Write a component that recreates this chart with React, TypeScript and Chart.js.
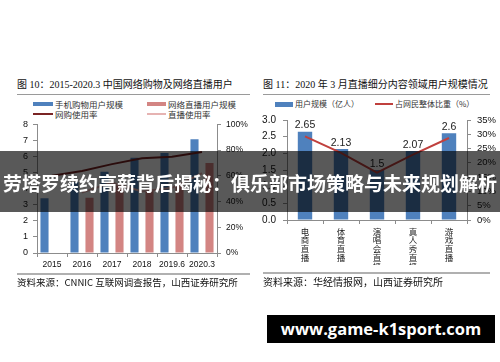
import React, { useEffect, useRef } from "react";
import { Chart, registerables } from "chart.js";
Chart.register(...registerables);

// ---- Left chart data (图 10) ----
const leftCategories = ["2015", "2016", "2017", "2018", "2019.6", "2020.3"];
const mobileShoppingUsers = [3.4, 4.41, 5.06, 5.92, 6.22, 7.07];
const liveStreamUsers = [null, 3.44, 4.22, 3.97, 4.33, 5.6];
const shoppingRate = [60.0, 63.8, 69.1, 73.6, 74.8, 78.6];
const liveRate = [null, 47.1, 54.7, 47.9, 50.7, 62.0];
const leftAxisTicks = [0, 1, 2, 3, 4, 5, 6, 7, 8];
const leftPctTicks = [0, 20, 40, 60, 80, 100];

// ---- Right chart data (图 11) ----
const rightCategories = ["电商直播", "体育直播", "演唱会直播", "真人秀直播", "游戏直播"];
const segmentUsers = [2.65, 2.13, 1.5, 2.07, 2.6];
const segmentShare = [29.3, 23.5, 16.6, 22.9, 28.7];
const rightAxisTicks = [0, 0.5, 1, 1.5, 2, 2.5, 3];
const rightPctTicks = [0, 5, 10, 15, 20, 25, 30, 35];

const TICK_FONT = '"Liberation Sans", Arial, sans-serif';
const CJK_FONT = '"Liberation Serif", "Noto Sans CJK SC", serif';
const AXIS_GRAY = "#8c8c8c";

const barValueLabels = {
  id: "barValueLabels",
  afterDatasetsDraw(chart: any) {
    const meta = chart.getDatasetMeta(1);
    const ctx = chart.ctx;
    ctx.save();
    ctx.font = `10.5px ${TICK_FONT}`;
    ctx.fillStyle = "#222";
    ctx.textAlign = "center";
    ctx.textBaseline = "bottom";
    meta.data.forEach((el: any, i: number) => {
      ctx.fillText(String(segmentUsers[i]), el.x, el.y - 1);
    });
    ctx.restore();
  },
};

export default function App() {
  const leftRef = useRef<HTMLCanvasElement>(null);
  const rightRef = useRef<HTMLCanvasElement>(null);

  useEffect(() => {
    const left = new Chart(leftRef.current!, {
      type: "bar",
      data: {
        labels: leftCategories,
        datasets: [
          {
            type: "line",
            label: "网购使用率",
            data: shoppingRate,
            yAxisID: "y1",
            borderColor: "#7a2424",
            borderWidth: 2,
            pointRadius: 0,
            order: 1,
          },
          {
            type: "line",
            label: "直播使用率",
            data: liveRate,
            yAxisID: "y1",
            borderColor: "#e6b3b2",
            borderWidth: 2,
            pointRadius: 0,
            order: 1,
          },
          {
            type: "bar",
            label: "手机购物用户规模",
            data: mobileShoppingUsers,
            yAxisID: "y",
            backgroundColor: "#4f81bd",
            barPercentage: 0.54,
            categoryPercentage: 1,
            order: 2,
          },
          {
            type: "bar",
            label: "网络直播用户规模",
            data: liveStreamUsers,
            yAxisID: "y",
            backgroundColor: "#d38583",
            barPercentage: 0.54,
            categoryPercentage: 1,
            order: 2,
          },
        ],
      },
      options: {
        responsive: false,
        animation: false,
        devicePixelRatio: 1,
        layout: { padding: { top: 10, left: 0, right: 0, bottom: 0 } },
        plugins: { legend: { display: false }, tooltip: { enabled: false } },
        scales: {
          x: {
            grid: { drawOnChartArea: false, offset: true, tickLength: 4, color: AXIS_GRAY },
            border: { color: AXIS_GRAY },
            ticks: { font: { size: 8.5, family: TICK_FONT }, color: "#111", padding: 3, maxRotation: 0, autoSkip: false },
            afterFit: (s: any) => { s.height = 22; },
          },
          y: {
            position: "left",
            min: leftAxisTicks[0],
            max: leftAxisTicks[leftAxisTicks.length - 1],
            ticks: { stepSize: 1, autoSkip: false, font: { size: 9, family: TICK_FONT }, color: "#111", padding: 5 },
            grid: { drawOnChartArea: false, tickLength: 4, color: AXIS_GRAY },
            border: { color: AXIS_GRAY },
            afterFit: (s: any) => { s.width = 37; },
          },
          y1: {
            position: "right",
            min: leftPctTicks[0],
            max: leftPctTicks[leftPctTicks.length - 1],
            ticks: { stepSize: 20, autoSkip: false, font: { size: 8.5, family: TICK_FONT }, color: "#111", padding: 5, callback: (v: any) => v + "%" },
            grid: { drawOnChartArea: false, tickLength: 4, color: AXIS_GRAY },
            border: { color: AXIS_GRAY },
            afterFit: (s: any) => { s.width = 33; },
          },
        },
      },
    } as any);

    const right = new Chart(rightRef.current!, {
      type: "bar",
      data: {
        labels: rightCategories,
        datasets: [
          {
            type: "line",
            label: "占网民整体比重（%）",
            data: segmentShare,
            yAxisID: "y1",
            borderColor: "#c0403d",
            borderWidth: 2,
            pointRadius: 0,
            order: 1,
          },
          {
            type: "bar",
            label: "用户规模（亿人）",
            data: segmentUsers,
            yAxisID: "y",
            backgroundColor: "#4f81bd",
            barPercentage: 0.4,
            categoryPercentage: 1,
            order: 2,
          },
        ],
      },
      options: {
        responsive: false,
        animation: false,
        devicePixelRatio: 1,
        layout: { padding: { top: 10, left: 0, right: 0, bottom: 0 } },
        plugins: { legend: { display: false }, tooltip: { enabled: false } },
        scales: {
          x: {
            grid: { drawOnChartArea: false, offset: true, tickLength: 4, color: AXIS_GRAY },
            border: { color: AXIS_GRAY },
            ticks: {
              font: { size: 8.5, family: '"Noto Sans CJK SC", sans-serif', lineHeight: 1.03 },
              color: "#222",
              padding: 3,
              maxRotation: 0,
              minRotation: 0,
              autoSkip: false,
              callback: (_v: any, i: number) => rightCategories[i].split(""),
            },
            afterFit: (s: any) => { s.height = 45; },
          },
          y: {
            position: "left",
            min: rightAxisTicks[0],
            max: rightAxisTicks[rightAxisTicks.length - 1],
            ticks: { stepSize: 0.5, autoSkip: false, font: { size: 10, family: TICK_FONT }, color: "#111", padding: 7, callback: (v: any) => Number(v).toFixed(1) },
            grid: { drawOnChartArea: false, tickLength: 4, color: AXIS_GRAY },
            border: { color: AXIS_GRAY },
            afterFit: (s: any) => { s.width = 37; },
          },
          y1: {
            position: "right",
            min: rightPctTicks[0],
            max: rightPctTicks[rightPctTicks.length - 1],
            ticks: { stepSize: 5, autoSkip: false, font: { size: 9.5, family: TICK_FONT }, color: "#111", padding: 6, callback: (v: any) => v + "%" },
            grid: { drawOnChartArea: false, tickLength: 4, color: AXIS_GRAY },
            border: { color: AXIS_GRAY },
            afterFit: (s: any) => { s.width = 33; },
          },
        },
      },
      plugins: [barValueLabels],
    } as any);

    return () => {
      left.destroy();
      right.destroy();
    };
  }, []);

  const abs = (s: any) => ({ position: "absolute", ...s } as React.CSSProperties);
  const legendText: React.CSSProperties = { fontFamily: '"Noto Sans CJK SC", sans-serif', fontSize: 8.5, color: "#333", whiteSpace: "nowrap", lineHeight: "10px" };

  return (
    <div style={{ position: "relative", width: 500, height: 362, background: "#fff", overflow: "hidden" }}>
      <style>{"body{margin:0}"}</style>

      {/* Left chart titles */}
      <div style={abs({ left: 17, top: 78, fontFamily: CJK_FONT, fontSize: 10, color: "#111", whiteSpace: "nowrap", lineHeight: "14px" })}>
        图 10：2015-2020.3 中国网络购物及网络直播用户
      </div>
      <div style={abs({ left: 17, top: 94, width: 233, height: 1, background: "#9a9a9a" })} />
      {/* Left legend */}
      <div style={abs({ left: 33, top: 102, width: 20, height: 4, background: "#4f81bd" })} />
      <div style={abs({ left: 55, top: 99, ...legendText })}>手机购物用户规模</div>
      <div style={abs({ left: 147, top: 102, width: 19, height: 4, background: "#d38583" })} />
      <div style={abs({ left: 168, top: 99, ...legendText })}>网络直播用户规模</div>
      <div style={abs({ left: 33, top: 113, width: 20, height: 2, background: "#7a2424" })} />
      <div style={abs({ left: 55, top: 109, ...legendText })}>网购使用率</div>
      <div style={abs({ left: 147, top: 113, width: 19, height: 2, background: "#e6b3b2" })} />
      <div style={abs({ left: 168, top: 109, ...legendText })}>直播使用率</div>

      <canvas ref={leftRef} width={250} height={161} style={abs({ left: 0, top: 114 })} />

      <div style={abs({ left: 17, top: 273, width: 233, height: 2, background: "#b0b0b0" })} />
      <div style={abs({ left: 17, top: 276, fontFamily: '"Noto Sans CJK SC", sans-serif', fontSize: 9.5, color: "#111", whiteSpace: "nowrap", lineHeight: "13px" })}>
        资料来源：CNNIC 互联网调查报告，山西证券研究所
      </div>

      {/* Right chart titles */}
      <div style={abs({ left: 263, top: 78, fontFamily: CJK_FONT, fontSize: 10, color: "#111", whiteSpace: "nowrap", lineHeight: "14px" })}>
        图 11：2020 年 3 月直播细分内容领域用户规模情况
      </div>
      <div style={abs({ left: 263, top: 94, width: 227, height: 1, background: "#9a9a9a" })} />
      <div style={abs({ left: 275, top: 102, width: 18, height: 5, background: "#4f81bd" })} />
      <div style={abs({ left: 295, top: 99, ...legendText, fontSize: 8 })}>用户规模（亿人）</div>
      <div style={abs({ left: 375, top: 103, width: 18, height: 2, background: "#c0403d" })} />
      <div style={abs({ left: 395, top: 99, ...legendText, fontSize: 8 })}>占网民整体比重（%）</div>

      <canvas ref={rightRef} width={250} height={158} style={abs({ left: 250, top: 107 })} />

      <div style={abs({ left: 263, top: 272, width: 227, height: 2, background: "#b0b0b0" })} />
      <div style={abs({ left: 263, top: 275, fontFamily: '"Noto Sans CJK SC", sans-serif', fontSize: 10, color: "#111", whiteSpace: "nowrap", lineHeight: "13px" })}>
        资料来源：华经情报网，山西证券研究所
      </div>

      {/* Banner overlay */}
      <div style={abs({ left: 0, top: 151, width: 500, height: 61, background: "rgba(0,0,0,0.65)" })} />
      <div style={abs({ left: 0, top: 170, width: 500, textAlign: "center", fontFamily: '"Noto Sans CJK SC", sans-serif', fontWeight: 700, fontSize: 19, color: "#fff", whiteSpace: "nowrap", lineHeight: "26px" })}>
        劳塔罗续约高薪背后揭秘：俱乐部市场策略与未来规划解析
      </div>

      {/* Footer */}
      <div style={abs({ left: 267, top: 315, width: 228, height: 28, background: "#000" })} />
      <div style={abs({ left: 267, top: 315, width: 228, height: 28, textAlign: "center", fontFamily: '"Open Sans", "Noto Sans", sans-serif', fontWeight: 700, fontSize: 16.5, color: "#fff", lineHeight: "28px", whiteSpace: "nowrap" })}>
        www.game-k1sport.com
      </div>
    </div>
  );
}
